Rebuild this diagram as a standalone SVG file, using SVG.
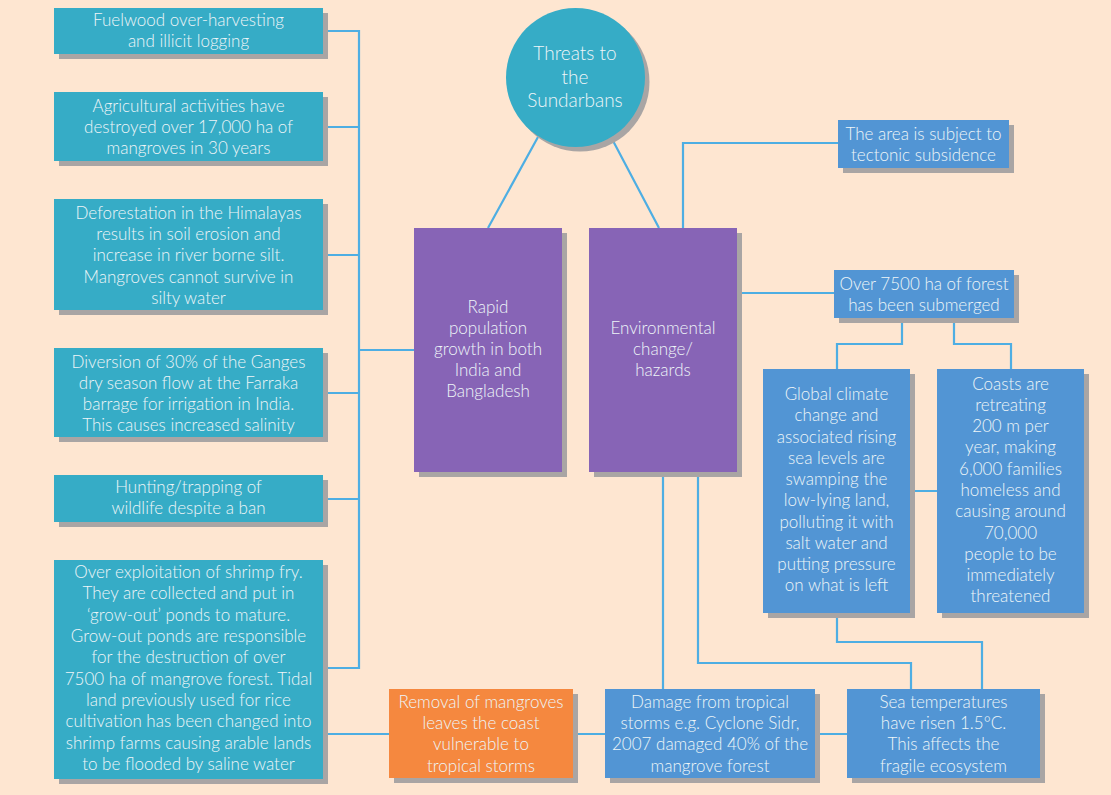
<svg xmlns="http://www.w3.org/2000/svg" width="1111" height="795" viewBox="0 0 1111 795">
<style>
.sh{fill:#a9a5a4}
.teal{fill:#36acc6}
.pur{fill:#8764b6}
.blu{fill:#5295d4}
.org{fill:#f5883f}
.t{font-family:Lato,"Open Sans","Liberation Sans",sans-serif;font-size:17px;font-weight:300;fill:#eef5f8;text-anchor:middle}
.c{fill:none;stroke:#4eaee3;stroke-width:2.2}
</style>
<rect width="1111" height="795" fill="#fee6d1"/>
<g id="connectors">
<path class="c" d="M538,137 L488,228 M611,137 L659,228"/>
<path class="c" d="M323,31 H359 V668 H323 M323,127 H359 M323,255 H359 M323,393 H359 M323,499 H359 M359,350 H414"/>
<path class="c" d="M683,228 V143 H838 M737,293 H834 M902,318 V344 H837 V369 M954,318 V344 H1011 V369 M910,491 H937"/>
<path class="c" d="M663,472 V689 M698,472 V663 H911 V689 M837,613 V642 H982 V689"/>
<path class="c" d="M323,734 H389 M573,734 H605 M815,734 H847"/>
</g>
<g id="n-center">
<circle class="sh" cx="580" cy="82" r="69.5"/>
<circle class="teal" cx="575.5" cy="77.5" r="69.5"/>
<text class="t" style="font-size:19px"><tspan x="575" y="60">Threats to</tspan><tspan x="575" y="84">the</tspan><tspan x="575" y="107">Sundarbans</tspan></text>
</g>
<g id="n-fuelwood">
<rect class="sh" x="59" y="13" width="269" height="46"/>
<rect class="teal" x="54" y="8" width="269" height="46"/>
<text class="t"><tspan x="188.5" y="26">Fuelwood over-harvesting</tspan><tspan x="188.5" y="47">and illicit logging</tspan></text>
</g>
<g id="n-agri">
<rect class="sh" x="59" y="97" width="269" height="69"/>
<rect class="teal" x="54" y="92" width="269" height="69"/>
<text class="t"><tspan x="188.5" y="112">Agricultural activities have</tspan><tspan x="188.5" y="133">destroyed over 17,000 ha of</tspan><tspan x="188.5" y="154">mangroves in 30 years</tspan></text>
</g>
<g id="n-defor">
<rect class="sh" x="59" y="204" width="269" height="111"/>
<rect class="teal" x="54" y="199" width="269" height="111"/>
<text class="t"><tspan x="188.5" y="219">Deforestation in the Himalayas</tspan><tspan x="188.5" y="240">results in soil erosion and</tspan><tspan x="188.5" y="261">increase in river borne silt.</tspan><tspan x="188.5" y="283">Mangroves cannot survive in</tspan><tspan x="188.5" y="304">silty water</tspan></text>
</g>
<g id="n-diversion">
<rect class="sh" x="59" y="353" width="269" height="89"/>
<rect class="teal" x="54" y="348" width="269" height="89"/>
<text class="t"><tspan x="188.5" y="368">Diversion of 30% of the Ganges</tspan><tspan x="188.5" y="389">dry season flow at the Farraka</tspan><tspan x="188.5" y="410">barrage for irrigation in India.</tspan><tspan x="188.5" y="431">This causes increased salinity</tspan></text>
</g>
<g id="n-hunting">
<rect class="sh" x="59" y="480" width="269" height="47"/>
<rect class="teal" x="54" y="475" width="269" height="47"/>
<text class="t"><tspan x="188.5" y="493">Hunting/trapping of</tspan><tspan x="188.5" y="514">wildlife despite a ban</tspan></text>
</g>
<g id="n-shrimp">
<rect class="sh" x="59" y="565" width="269" height="219"/>
<rect class="teal" x="54" y="560" width="269" height="219"/>
<text class="t"><tspan x="188.5" y="578">Over exploitation of shrimp fry.</tspan><tspan x="188.5" y="599">They are collected and put in</tspan><tspan x="188.5" y="621">‘grow-out’ ponds to mature.</tspan><tspan x="188.5" y="642">Grow-out ponds are responsible</tspan><tspan x="188.5" y="663">for the destruction of over</tspan><tspan x="188.5" y="685">7500 ha of mangrove forest. Tidal</tspan><tspan x="188.5" y="706">land previously used for rice</tspan><tspan x="188.5" y="727">cultivation has been changed into</tspan><tspan x="188.5" y="749">shrimp farms causing arable lands</tspan><tspan x="188.5" y="770">to be flooded by saline water</tspan></text>
</g>
<g id="n-population">
<rect class="sh" x="419" y="233" width="148" height="244"/>
<rect class="pur" x="414" y="228" width="148" height="244"/>
<text class="t"><tspan x="488" y="313">Rapid</tspan><tspan x="488" y="334">population</tspan><tspan x="488" y="355">growth in both</tspan><tspan x="488" y="376">India and</tspan><tspan x="488" y="397">Bangladesh</tspan></text>
</g>
<g id="n-environment">
<rect class="sh" x="594" y="233" width="148" height="244"/>
<rect class="pur" x="589" y="228" width="148" height="244"/>
<text class="t"><tspan x="663" y="334">Environmental</tspan><tspan x="663" y="355">change/</tspan><tspan x="663" y="376">hazards</tspan></text>
</g>
<g id="n-tectonic">
<rect class="sh" x="843" y="125" width="171" height="48"/>
<rect class="blu" x="838" y="120" width="171" height="48"/>
<text class="t"><tspan x="923.5" y="140">The area is subject to</tspan><tspan x="923.5" y="161">tectonic subsidence</tspan></text>
</g>
<g id="n-submerged">
<rect class="sh" x="839" y="275" width="180" height="48"/>
<rect class="blu" x="834" y="270" width="180" height="48"/>
<text class="t"><tspan x="924" y="290">Over 7500 ha of forest</tspan><tspan x="924" y="311">has been submerged</tspan></text>
</g>
<g id="n-global">
<rect class="sh" x="768" y="374" width="147" height="244"/>
<rect class="blu" x="763" y="369" width="147" height="244"/>
<text class="t"><tspan x="836.5" y="400">Global climate</tspan><tspan x="836.5" y="421">change and</tspan><tspan x="836.5" y="443">associated rising</tspan><tspan x="836.5" y="464">sea levels are</tspan><tspan x="836.5" y="485">swamping the</tspan><tspan x="836.5" y="506">low-lying land,</tspan><tspan x="836.5" y="528">polluting it with</tspan><tspan x="836.5" y="549">salt water and</tspan><tspan x="836.5" y="570">putting pressure</tspan><tspan x="836.5" y="591">on what is left</tspan></text>
</g>
<g id="n-coasts">
<rect class="sh" x="942" y="374" width="147" height="244"/>
<rect class="blu" x="937" y="369" width="147" height="244"/>
<text class="t"><tspan x="1010.5" y="390">Coasts are</tspan><tspan x="1010.5" y="411">retreating</tspan><tspan x="1010.5" y="432">200 m per</tspan><tspan x="1010.5" y="453">year, making</tspan><tspan x="1010.5" y="475">6,000 families</tspan><tspan x="1010.5" y="496">homeless and</tspan><tspan x="1010.5" y="517">causing around</tspan><tspan x="1010.5" y="539">70,000</tspan><tspan x="1010.5" y="560">people to be</tspan><tspan x="1010.5" y="581">immediately</tspan><tspan x="1010.5" y="602">threatened</tspan></text>
</g>
<g id="n-removal">
<rect class="sh" x="394" y="694" width="184" height="89"/>
<rect class="org" x="389" y="689" width="184" height="89"/>
<text class="t"><tspan x="481" y="708">Removal of mangroves</tspan><tspan x="481" y="729">leaves the coast</tspan><tspan x="481" y="750">vulnerable to</tspan><tspan x="481" y="772">tropical storms</tspan></text>
</g>
<g id="n-damage">
<rect class="sh" x="610" y="694" width="210" height="89"/>
<rect class="blu" x="605" y="689" width="210" height="89"/>
<text class="t"><tspan x="710" y="708">Damage from tropical</tspan><tspan x="710" y="729">storms e.g. Cyclone Sidr,</tspan><tspan x="710" y="750">2007 damaged 40% of the</tspan><tspan x="710" y="772">mangrove forest</tspan></text>
</g>
<g id="n-seatemp">
<rect class="sh" x="852" y="694" width="193" height="89"/>
<rect class="blu" x="847" y="689" width="193" height="89"/>
<text class="t"><tspan x="943.5" y="708">Sea temperatures</tspan><tspan x="943.5" y="729">have risen 1.5°C.</tspan><tspan x="943.5" y="750">This affects the</tspan><tspan x="943.5" y="772">fragile ecosystem</tspan></text>
</g>
</svg>
